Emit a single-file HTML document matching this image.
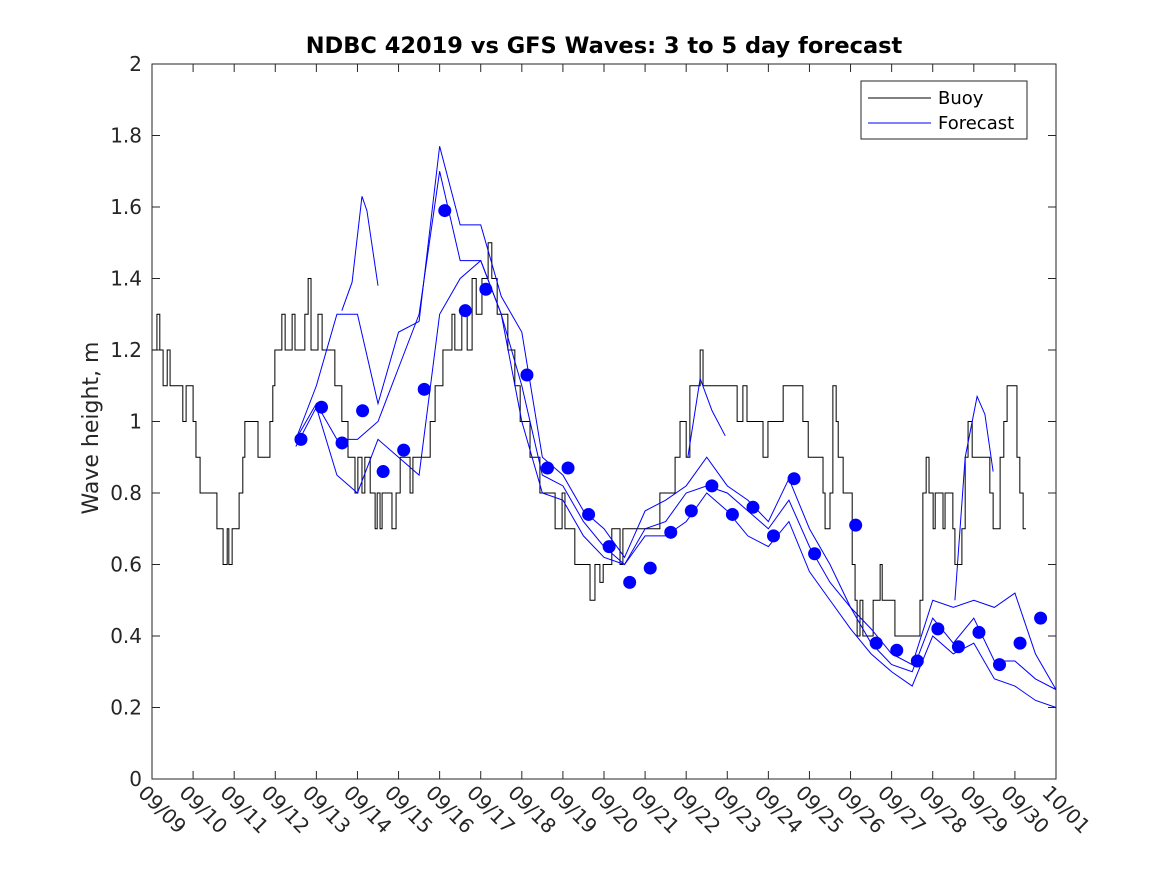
<!DOCTYPE html>
<html><head><meta charset="utf-8"><style>
body{margin:0;background:#fff;}
svg text{font-family:"DejaVu Sans","Liberation Sans",sans-serif;fill:#262626;}
</style></head><body>
<svg id="chart" width="1167" height="875" xmlns="http://www.w3.org/2000/svg">
<rect width="1167" height="875" fill="#fff"/>
<text x="604" y="53" text-anchor="middle" font-size="22.5" font-weight="bold" style="fill:#000">NDBC 42019 vs GFS Waves: 3 to 5 day forecast</text>
<text transform="translate(98,428) rotate(-90)" text-anchor="middle" font-size="22">Wave height, m</text>
<g id="axes"></g>
<g id="marks"></g>
<g>
<rect x="861" y="81" width="166" height="58" fill="#fff" stroke="#262626" stroke-width="1"/>
<line x1="868" y1="98" x2="931" y2="98" stroke="#000" stroke-width="1"/>
<text x="938" y="104" font-size="18" style="fill:#000">Buoy</text>
<line x1="868" y1="123" x2="931" y2="123" stroke="#0000ff" stroke-width="1"/>
<text x="938" y="129" font-size="18" style="fill:#000">Forecast</text>
</g>
</svg>
<script>
const dayLabels=["09/09","09/10","09/11","09/12","09/13","09/14","09/15","09/16","09/17","09/18","09/19","09/20","09/21","09/22","09/23","09/24","09/25","09/26","09/27","09/28","09/29","09/30","10/01"];
const yTicks=[0,0.2,0.4,0.6,0.8,1,1.2,1.4,1.6,1.8,2];
const buoyDays=[0,.12,.19,.27,.37,.44,.75,.83,1.0,1.07,1.17,1.58,1.73,1.83,1.87,1.95,2.04,2.12,2.21,2.26,2.58,2.87,2.94,2.99,3.12,3.16,3.24,3.41,3.48,3.72,3.80,3.87,3.99,4.04,4.14,4.45,4.62,4.77,4.87,4.94,5.01,5.11,5.18,5.31,5.43,5.48,5.55,5.60,5.84,5.94,6.04,6.28,6.35,6.47,6.77,6.89,7.08,7.30,7.37,7.54,7.67,7.79,7.89,8.03,8.18,8.27,8.40,8.66,8.83,8.96,9.20,9.44,9.81,9.98,10.05,10.29,10.66,10.78,10.90,10.98,11.19,11.39,11.46,12.36,12.73,12.85,13.00,13.09,13.34,13.41,14.24,14.38,14.48,14.87,14.99,15.36,15.84,15.97,16.33,16.38,16.50,16.57,16.65,16.70,16.82,17.04,17.11,17.16,17.23,17.30,17.55,17.72,17.77,18.08,18.69,18.76,18.84,18.91,19.01,19.06,19.25,19.30,19.49,19.54,19.71,19.79,19.86,19.96,20.39,20.47,20.64,20.73,20.81,21.00,21.05,21.12,21.20,21.27];
const buoyValues=[1.2,1.3,1.2,1.1,1.2,1.1,1.0,1.1,1.0,0.9,0.8,0.7,0.6,0.7,0.6,0.7,0.7,0.8,0.9,1.0,0.9,1.0,1.1,1.2,1.2,1.3,1.2,1.3,1.2,1.3,1.4,1.2,1.2,1.3,1.2,1.1,1.0,0.9,0.9,0.8,0.9,0.8,0.9,0.8,0.7,0.8,0.7,0.8,0.7,0.8,0.9,0.8,0.9,0.9,1.0,1.1,1.2,1.3,1.2,1.3,1.2,1.4,1.3,1.4,1.5,1.4,1.3,1.2,1.1,1.0,0.9,0.8,0.7,0.8,0.7,0.6,0.5,0.6,0.55,0.6,0.7,0.6,0.7,0.8,0.9,1.0,0.9,1.1,1.2,1.1,1.0,1.1,1.0,0.9,1.0,1.1,1.0,0.9,0.8,0.7,0.8,1.1,1.0,0.9,0.8,0.6,0.5,0.4,0.5,0.4,0.5,0.6,0.5,0.4,0.5,0.8,0.9,0.8,0.7,0.8,0.7,0.8,0.7,0.6,0.7,0.9,1.0,0.9,0.8,0.7,0.9,1.0,1.1,1.1,0.9,0.8,0.7,0.7];
const fcStart=3.5, fcStep=0.5;
const forecast1=[0.93,1.04,0.85,0.8,0.95,0.9,0.85,1.3,1.4,1.45,1.3,1.0,0.8,0.78,0.68,0.62,0.6,0.68,0.68,0.72,0.8,0.75,0.68,0.65,0.72,0.58,0.5,0.42,0.35,0.3,0.26,0.4,0.35,0.38,0.28,0.26,0.22,0.2];
const forecast2=[0.95,1.05,0.95,0.95,1.0,1.15,1.3,1.7,1.45,1.45,1.3,1.1,0.85,0.82,0.72,0.65,0.6,0.7,0.72,0.8,0.82,0.8,0.75,0.7,0.78,0.65,0.55,0.48,0.38,0.32,0.3,0.45,0.38,0.45,0.33,0.33,0.28,0.25];
const forecast3=[0.95,1.1,1.3,1.3,1.05,1.25,1.28,1.77,1.55,1.55,1.35,1.25,0.9,0.85,0.75,0.7,0.62,0.75,0.78,0.82,0.9,0.82,0.78,0.72,0.84,0.7,0.6,0.48,0.42,0.35,0.32,0.5,0.48,0.5,0.48,0.52,0.35,0.25];
const segADays=[4.62,4.87,5.11,5.23,5.50];
const segAValues=[1.31,1.39,1.63,1.59,1.38];
const segBDays=[13.04,13.34,13.63,13.95];
const segBValues=[0.9,1.12,1.03,0.96];
const segCDays=[19.54,19.79,20.08,20.27,20.47];
const segCValues=[0.5,0.9,1.07,1.02,0.86];
const dotStart=3.625, dotStep=0.5;
const dotIndex=[0,1,2,3,4,5,6,7,8,9,11,12,13,14,15,16,17,18,19,20,21,22,23,24,25,27,28,29,30,31,32,33,34,35,36];
const dotValues=[0.95,1.04,0.94,1.03,0.86,0.92,1.09,1.59,1.31,1.37,1.13,0.87,0.87,0.74,0.65,0.55,0.59,0.69,0.75,0.82,0.74,0.76,0.68,0.84,0.63,0.71,0.38,0.36,0.33,0.42,0.37,0.41,0.32,0.38,0.45];

const X0=152,X1=1056,Y0=779,Y1=64,NS="http://www.w3.org/2000/svg";
const xs=d=>X0+(X1-X0)*d/22;
const ys=v=>Y0-(Y0-Y1)*v/2;
function mk(tag,attrs,parent){const e=document.createElementNS(NS,tag);for(const k in attrs)e.setAttribute(k,attrs[k]);parent.appendChild(e);return e;}
const axes=document.getElementById('axes'),marks=document.getElementById('marks');
const frame=mk('rect',{x:X0,y:Y1,width:X1-X0,height:Y0-Y1,fill:'none',stroke:'#262626','stroke-width':1},axes);


yTicks.forEach(v=>{const y=ys(v);
 mk('line',{x1:X0,x2:X0+8,y1:y,y2:y,stroke:'#262626'},axes);
 mk('line',{x1:X1,x2:X1-8,y1:y,y2:y,stroke:'#262626'},axes);
 const t=mk('text',{x:X0-10,y:y+7,'text-anchor':'end','font-size':20},axes);t.textContent=String(v);
 
 });
dayLabels.forEach((l,i)=>{const x=xs(i);
 mk('line',{x1:x,x2:x,y1:Y0,y2:Y0-8,stroke:'#262626'},axes);
 mk('line',{x1:x,x2:x,y1:Y1,y2:Y1+8,stroke:'#262626'},axes);
 const t=mk('text',{x:0,y:0,'font-size':20,transform:`translate(${x-15},${Y0+15}) rotate(45)`},axes);t.textContent=l;
 
 });
let d='';
for(let i=0;i<buoyValues.length-1;i++){const y=ys(buoyValues[i]);d+=(i?'L':'M')+xs(buoyDays[i])+','+y+'L'+xs(buoyDays[i+1])+','+y;}
const bp=mk('path',{d:d,fill:'none',stroke:'#000','stroke-width':1},marks);


[forecast1,forecast2,forecast3].forEach((arr,k)=>{
 const p=mk('path',{d:arr.map((v,i)=>(i?'L':'M')+xs(fcStart+i*fcStep)+','+ys(v)).join(''),fill:'none',stroke:'#0000ff','stroke-width':1},marks);
 
 });
[[segADays,segAValues],[segBDays,segBValues],[segCDays,segCValues]].forEach(([ds,vs],k)=>{
 const p=mk('path',{d:vs.map((v,i)=>(i?'L':'M')+xs(ds[i])+','+ys(v)).join(''),fill:'none',stroke:'#0000ff','stroke-width':1},marks);
 
 });
dotValues.forEach((v,i)=>{const c=mk('circle',{cx:xs(dotStart+dotIndex[i]*dotStep),cy:ys(v),r:6.5,fill:'#0000ff'},marks);
 
 });
</script>
</body></html>
